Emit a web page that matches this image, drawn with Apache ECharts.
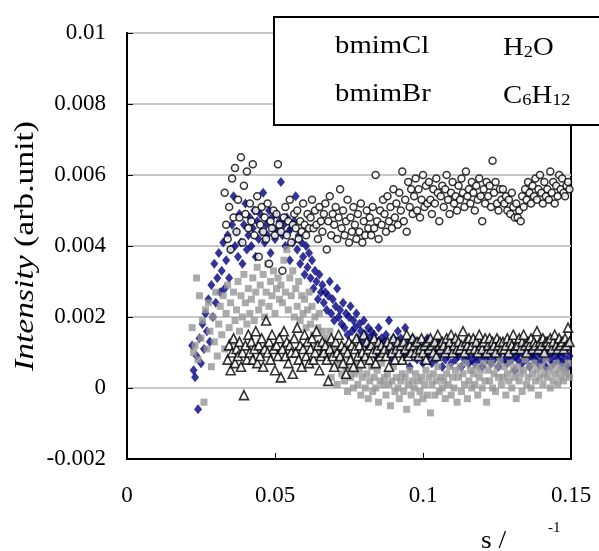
<!DOCTYPE html>
<html>
<head>
<meta charset="utf-8">
<script src="https://cdn.jsdelivr.net/npm/echarts@6/dist/echarts.min.js"></script>
<style>
html,body{margin:0;padding:0;background:#fff;}
#chart{width:599px;height:551px;}
</style>
</head>
<body>
<div id="chart"></div>
<script>
// scattering vector s (common grid)
const sValues = [
0.022,0.0225,0.023,0.0235,0.024,0.0245,0.025,0.0255,0.026,0.0265,
0.027,0.0275,0.028,0.0285,0.029,0.0295,0.030,0.0305,0.031,0.0315,
0.032,0.0325,0.033,0.0335,0.034,0.0345,0.035,0.0355,0.036,0.0365,
0.037,0.0375,0.038,0.0385,0.039,0.0395,0.040,0.0405,0.041,0.0415,
0.042,0.0425,0.043,0.0435,0.044,0.0445,0.045,0.0455,0.046,0.0465,
0.047,0.0475,0.048,0.0485,0.049,0.0495,0.050,0.0505,0.051,0.0515,
0.052,0.0525,0.053,0.0535,0.054,0.0545,0.055,0.0555,0.056,0.0565,
0.057,0.0575,0.058,0.0585,0.059,0.0595,0.060,0.0605,0.061,0.0615,
0.062,0.0625,0.063,0.0635,0.064,0.0645,0.065,0.0655,0.066,0.0665,
0.067,0.0675,0.068,0.0685,0.069,0.0695,0.070,0.0705,0.071,0.0715,
0.072,0.0725,0.073,0.0735,0.074,0.0745,0.075,0.0755,0.076,0.0765,
0.077,0.0775,0.078,0.0785,0.079,0.0795,0.080,0.0805,0.081,0.0815,
0.082,0.0825,0.083,0.0835,0.084,0.0845,0.085,0.0855,0.086,0.0865,
0.087,0.0875,0.088,0.0885,0.089,0.0895,0.090,0.0905,0.091,0.0915,
0.092,0.0925,0.093,0.0935,0.094,0.0945,0.095,0.0955,0.096,0.0965,
0.097,0.0975,0.098,0.0985,0.099,0.0995,0.100,0.1005,0.101,0.1015,
0.102,0.1025,0.103,0.1035,0.104,0.1045,0.105,0.1055,0.106,0.1065,
0.107,0.1075,0.108,0.1085,0.109,0.1095,0.110,0.1105,0.111,0.1115,
0.112,0.1125,0.113,0.1135,0.114,0.1145,0.115,0.1155,0.116,0.1165,
0.117,0.1175,0.118,0.1185,0.119,0.1195,0.120,0.1205,0.121,0.1215,
0.122,0.1225,0.123,0.1235,0.124,0.1245,0.125,0.1255,0.126,0.1265,
0.127,0.1275,0.128,0.1285,0.129,0.1295,0.130,0.1305,0.131,0.1315,
0.132,0.1325,0.133,0.1335,0.134,0.1345,0.135,0.1355,0.136,0.1365,
0.137,0.1375,0.138,0.1385,0.139,0.1395,0.140,0.1405,0.141,0.1415,
0.142,0.1425,0.143,0.1435,0.144,0.1445,0.145,0.1455,0.146,0.1465,
0.147,0.1475,0.148,0.1485,0.149,0.1495
];

// bmimCl (navy diamonds)
const bmimClValues = [
0.0012,0.0005,0.0003,0.0009,-0.0006,0.0014,0.0007,0.0018,0.0011,0.0021,
0.0016,0.0025,0.0013,0.0029,0.0020,0.0035,0.0024,0.0031,0.0038,0.0027,
0.0033,0.0041,0.0028,0.0036,0.0043,0.0031,0.0039,0.0046,0.0054,0.0040,
0.0044,0.0037,0.0049,0.0041,0.0035,0.0046,0.0052,0.0039,0.0043,0.0048,
0.0040,0.0045,0.0050,0.0037,0.0047,0.0042,0.0049,0.0044,0.0055,0.0041,
0.0046,0.0043,0.0050,0.0038,0.0048,0.0045,0.0042,0.0049,0.0044,0.0047,
0.0058,0.0043,0.0046,0.0040,0.0048,0.0044,0.0036,0.0045,0.0041,0.0047,
0.0054,0.0039,0.0043,0.0035,0.0041,0.0037,0.0032,0.0040,0.0034,0.0038,
0.0031,0.0036,0.0028,0.0033,0.0030,0.0025,0.0032,0.0027,0.0029,0.0024,
0.0027,0.0022,0.0026,0.0030,0.0021,0.0025,0.0019,0.0023,0.0028,0.0020,
0.0022,0.0018,0.0024,0.0017,0.0021,0.0015,0.0020,0.0023,0.0016,0.0019,
0.0017,0.0021,0.0014,0.0018,0.0016,0.0013,0.0019,0.0015,0.0012,0.0017,
0.0014,0.0016,0.0011,0.0015,0.0009,0.0013,0.0017,0.0012,0.0014,0.0010,
0.0013,0.0015,0.0011,0.0019,0.0012,0.0008,0.0014,0.0010,0.0013,0.0016,
0.0011,0.0014,0.0009,0.0012,0.0017,0.0010,0.0013,0.0006,0.0011,0.0014,
0.0010,0.0012,0.0008,0.0013,0.0009,0.0011,0.0007,0.0012,0.0010,0.0014,
0.0009,0.0011,0.0007,0.0012,0.0010,0.0008,0.0013,0.0009,0.0011,0.0006,
0.0010,0.0008,0.0012,0.0009,0.0011,0.0007,0.0010,0.0013,0.0008,0.0010,
0.0009,0.0011,0.0006,0.0010,0.0008,0.0012,0.0009,0.0007,0.0011,0.0008,
0.0010,0.0007,0.0009,0.0012,0.0008,0.0010,0.0006,0.0009,0.0011,0.0008,
0.0009,0.0011,0.0007,0.0010,0.0008,0.0012,0.0009,0.0006,0.0010,0.0008,
0.0011,0.0008,0.0010,0.0007,0.0009,0.0012,0.0008,0.0010,0.0005,0.0009,
0.0008,0.0010,0.0012,0.0007,0.0009,0.0011,0.0008,0.0010,0.0006,0.0009,
0.0010,0.0008,0.0011,0.0009,0.0007,0.0010,0.0012,0.0008,0.0009,0.0006,
0.0009,0.0011,0.0008,0.0010,0.0007,0.0009,0.0012,0.0008,0.0010,0.0009,
0.0007,0.0010,0.0008,0.0011,0.0006,0.0009
];

// H2O (grey squares)
const h2oValues = [
0.0017,0.0010,0.0012,0.0031,0.0008,0.0026,0.0014,0.0019,-0.0004,0.0022,
0.0011,0.0024,0.0016,0.0006,0.0020,0.0013,0.0027,0.0009,0.0018,0.0023,
0.0015,0.0026,0.0011,0.0021,0.0029,0.0017,0.0024,0.0013,0.0027,0.0019,
0.0022,0.0030,0.0016,0.0026,0.0020,0.0032,0.0024,0.0018,0.0028,0.0021,
0.0025,0.0031,0.0019,0.0027,0.0034,0.0022,0.0029,0.0024,0.0032,0.0020,
0.0027,0.0035,0.0023,0.0030,0.0026,0.0033,0.0021,0.0028,0.0031,0.0025,
0.0029,0.0024,0.0036,0.0027,0.0039,0.0022,0.0031,0.0026,0.0033,0.0020,
0.0028,0.0023,0.0030,0.0019,0.0026,0.0021,0.0025,0.0017,0.0022,0.0027,
0.0018,0.0023,0.0015,0.0020,0.0012,0.0017,0.0021,0.0011,0.0016,0.0013,
0.0014,0.0009,0.0012,0.0016,0.0003,0.0011,0.0006,0.0010,0.0001,0.0007,
0.0008,0.0004,0.0011,0.0002,0.0006,-0.0001,0.0009,0.0003,0.0005,0.0000,
0.0004,0.0007,0.0001,0.0005,-0.0002,0.0003,0.0008,0.0000,0.0004,-0.0003,
0.0002,0.0006,-0.0001,0.0003,0.0000,0.0005,-0.0004,0.0002,0.0007,0.0001,
0.0003,-0.0002,0.0004,0.0001,-0.0005,0.0002,0.0006,-0.0001,0.0003,0.0000,
-0.0003,0.0002,0.0004,-0.0001,0.0003,-0.0006,0.0001,0.0005,-0.0002,0.0002,
0.0000,0.0004,-0.0004,0.0002,-0.0001,0.0003,-0.0003,0.0001,0.0005,-0.0002,
0.0003,-0.0007,0.0001,0.0004,-0.0002,0.0002,0.0006,-0.0001,0.0003,0.0000,
0.0002,-0.0003,0.0004,0.0001,0.0006,-0.0002,0.0003,0.0000,0.0005,-0.0004,
0.0003,0.0006,-0.0001,0.0004,0.0001,0.0007,-0.0003,0.0002,0.0005,0.0000,
0.0004,0.0001,0.0006,-0.0002,0.0003,0.0005,0.0000,0.0007,0.0002,-0.0004,
0.0005,0.0002,0.0007,0.0000,0.0004,-0.0001,0.0006,0.0003,0.0008,0.0001,
0.0003,0.0006,-0.0002,0.0004,0.0002,0.0007,0.0000,0.0005,0.0003,-0.0003,
0.0006,0.0002,0.0004,-0.0001,0.0005,0.0008,0.0001,0.0003,0.0006,0.0000,
0.0004,0.0007,0.0002,0.0005,-0.0002,0.0003,0.0006,0.0001,0.0004,0.0008,
0.0003,0.0005,0.0000,0.0006,0.0002,0.0004,0.0007,0.0001,0.0005,0.0003,
0.0006,0.0002,0.0005,0.0004,0.0007,0.0003
];

// bmimBr (open triangles)
const bmimBrValues = [
null,null,null,null,null,null,null,null,null,null,
null,null,null,null,null,null,null,null,null,null,
null,null,null,null,0.0008,0.0012,0.0005,0.0010,0.0014,0.0007,
0.0011,0.0009,0.0013,0.0006,0.0010,-0.0002,0.0012,0.0008,0.0015,0.0010,
0.0013,0.0008,0.0011,0.0016,0.0007,0.0012,0.0009,0.0014,0.0006,0.0011,
0.0019,0.0010,0.0013,0.0008,0.0015,0.0011,0.0005,0.0012,0.0009,0.0014,
0.0003,0.0011,0.0016,0.0009,0.0013,0.0007,0.0012,0.0010,0.0004,0.0014,
0.0010,0.0017,0.0008,0.0012,0.0006,0.0011,0.0015,0.0009,0.0013,0.0007,
0.0011,0.0014,0.0008,0.0010,0.0016,0.0012,0.0005,0.0009,0.0013,0.0010,
0.0012,0.0008,0.0002,0.0011,0.0014,0.0009,0.0006,0.0013,0.0010,0.0015,
0.0009,0.0012,0.0007,0.0011,0.0004,0.0010,0.0013,0.0008,0.0012,0.0006,
0.0011,0.0014,0.0009,0.0012,0.0007,0.0010,0.0015,0.0009,0.0013,0.0011,
0.0008,0.0012,0.0010,0.0014,0.0007,0.0011,0.0013,0.0009,0.0012,0.0010,
0.0011,0.0009,0.0013,0.0006,0.0012,0.0010,0.0014,0.0008,0.0011,0.0013,
0.0010,0.0012,0.0008,0.0013,0.0011,0.0015,0.0009,0.0012,0.0010,0.0014,
0.0012,0.0010,0.0013,0.0009,0.0011,0.0014,0.0010,0.0012,0.0008,0.0013,
0.0011,0.0014,0.0012,0.0010,0.0013,0.0009,0.0015,0.0012,0.0011,0.0013,
0.0012,0.0010,0.0014,0.0011,0.0013,0.0015,0.0010,0.0012,0.0014,0.0011,
0.0013,0.0011,0.0012,0.0016,0.0010,0.0013,0.0012,0.0014,0.0011,0.0012,
0.0014,0.0011,0.0013,0.0010,0.0015,0.0012,0.0011,0.0013,0.0014,0.0010,
0.0012,0.0014,0.0011,0.0013,0.0012,0.0010,0.0014,0.0012,0.0013,0.0011,
0.0013,0.0011,0.0012,0.0014,0.0010,0.0013,0.0012,0.0015,0.0011,0.0012,
0.0012,0.0014,0.0011,0.0013,0.0015,0.0012,0.0010,0.0013,0.0012,0.0014,
0.0011,0.0013,0.0012,0.0016,0.0011,0.0013,0.0012,0.0014,0.0010,0.0013,
0.0013,0.0012,0.0014,0.0011,0.0013,0.0015,0.0012,0.0011,0.0014,0.0012,
0.0013,0.0011,0.0014,0.0012,0.0017,0.0013
];

// C6H12 (open circles)
const c6h12Values = [
null,null,null,null,null,null,null,null,null,null,
null,null,null,null,null,null,null,null,null,null,
null,null,0.0055,0.0046,0.0042,0.0051,0.0039,0.0059,0.0048,0.0062,
0.0044,0.0053,0.0048,0.0065,0.0041,0.0057,0.0049,0.0061,0.0045,0.0052,
0.0047,0.0063,0.0043,0.0050,0.0054,0.0037,0.0046,0.0051,0.0044,0.0048,
0.0042,0.0052,0.0035,0.0047,0.0045,0.0050,0.0043,0.0049,0.0063,0.0046,
0.0044,0.0033,0.0048,0.0051,0.0043,0.0047,0.0053,0.0041,0.0046,0.0049,
0.0045,0.0050,0.0042,0.0047,0.0044,0.0052,0.0046,0.0043,0.0049,0.0045,
0.0048,0.0053,0.0045,0.0050,0.0046,0.0042,0.0051,0.0047,0.0044,0.0049,
0.0052,0.0039,0.0047,0.0054,0.0043,0.0049,0.0046,0.0051,0.0042,0.0048,
0.0056,0.0045,0.0050,0.0043,0.0047,0.0053,0.0041,0.0048,0.0044,0.0051,
0.0046,0.0042,0.0049,0.0044,0.0052,0.0041,0.0047,0.0043,0.0050,0.0045,
0.0048,0.0043,0.0051,0.0045,0.0060,0.0047,0.0042,0.0050,0.0046,0.0053,
0.0049,0.0044,0.0054,0.0047,0.0051,0.0045,0.0056,0.0048,0.0052,0.0046,
0.0055,0.0050,0.0061,0.0047,0.0053,0.0044,0.0058,0.0051,0.0056,0.0049,
0.0054,0.0059,0.0050,0.0056,0.0048,0.0053,0.0060,0.0051,0.0057,0.0052,
0.0058,0.0053,0.0049,0.0056,0.0052,0.0059,0.0055,0.0047,0.0054,0.0057,
0.0051,0.0056,0.0060,0.0053,0.0049,0.0055,0.0058,0.0052,0.0054,0.0050,
0.0057,0.0053,0.0059,0.0055,0.0051,0.0061,0.0054,0.0056,0.0052,0.0058,
0.0055,0.0050,0.0057,0.0053,0.0059,0.0054,0.0047,0.0056,0.0052,0.0058,
0.0054,0.0057,0.0051,0.0064,0.0055,0.0058,0.0052,0.0050,0.0056,0.0053,
0.0056,0.0052,0.0054,0.0050,0.0053,0.0049,0.0055,0.0051,0.0048,0.0052,
0.0048,0.0050,0.0047,0.0054,0.0051,0.0056,0.0053,0.0058,0.0055,0.0052,
0.0057,0.0054,0.0059,0.0053,0.0056,0.0060,0.0055,0.0052,0.0058,0.0054,
0.0056,0.0053,0.0061,0.0055,0.0058,0.0052,0.0057,0.0054,0.0060,0.0056,
0.0059,0.0055,0.0054,0.0057,0.0058,0.0056
];

const seriesNames = ['bmimCl', 'H2O', 'bmimBr', 'C6H12'];

function toPairs(ys) {
  const out = [];
  for (let i = 0; i < sValues.length; i++) {
    if (ys[i] !== null && ys[i] !== undefined) out.push([sValues[i], ys[i]]);
  }
  return out;
}

const FONT = '"Liberation Serif", "Times New Roman", serif';

const subRich = {
  a: {fontSize: 25, fontFamily: FONT, fill: '#000', lineHeight: 30, verticalAlign: 'bottom'},
  b: {fontSize: 16, fontFamily: FONT, fill: '#000', lineHeight: 16, verticalAlign: 'bottom'}
};

const chart = echarts.init(document.getElementById('chart'), null, {renderer: 'canvas'});
chart.setOption({
  animation: false,
  backgroundColor: '#ffffff',
  grid: {
    left: 127, right: 28, top: 33, bottom: 92,
    show: true, borderColor: '#000', borderWidth: 2, backgroundColor: 'transparent'
  },
  xAxis: {
    type: 'value', min: 0, max: 0.15, interval: 0.05,
    axisLine: {show: true, onZero: false, lineStyle: {color: '#000', width: 2}},
    axisTick: {show: true, inside: true, length: 6, lineStyle: {color: '#000', width: 1}},
    axisLabel: {color: '#000', fontFamily: FONT, fontSize: 23, margin: 25},
    splitLine: {show: false}
  },
  yAxis: {
    type: 'value', min: -0.002, max: 0.01, interval: 0.002,
    axisLine: {show: true, onZero: false, lineStyle: {color: '#000', width: 2}},
    axisTick: {show: true, inside: true, length: 6, lineStyle: {color: '#000', width: 1}},
    axisLabel: {color: '#000', fontFamily: FONT, fontSize: 23, margin: 21},
    splitLine: {show: true, lineStyle: {color: '#c8c8c8', width: 2}}
  },
  series: [
    {
      name: seriesNames[0], type: 'scatter', data: toPairs(bmimClValues),
      symbol: 'diamond', symbolSize: [8, 10],
      itemStyle: {color: '#000080'}, emphasis: {disabled: true}, z: 2
    },
    {
      name: seriesNames[1], type: 'scatter', data: toPairs(h2oValues),
      symbol: 'rect', symbolSize: 7,
      itemStyle: {color: '#969696'}, emphasis: {disabled: true}, z: 3
    },
    {
      name: seriesNames[2], type: 'scatter', data: toPairs(bmimBrValues),
      symbol: 'triangle', symbolSize: 9,
      itemStyle: {color: '#ffffff', borderColor: '#000', borderWidth: 1.6}, emphasis: {disabled: true}, z: 4
    },
    {
      name: seriesNames[3], type: 'scatter', data: toPairs(c6h12Values),
      symbol: 'circle', symbolSize: 7,
      itemStyle: {color: '#ffffff', borderColor: '#000', borderWidth: 1.5}, emphasis: {disabled: true}, z: 5
    }
  ],
  graphic: [
    {
      type: 'rect', left: 273, top: 16, z: 100,
      shape: {width: 340, height: 108},
      style: {fill: '#fff', stroke: '#000', lineWidth: 2}
    },
    {
      type: 'text', x: 335, y: 46, z: 101, scaleX: 1.15,
      style: {text: 'bmimCl', font: '25px ' + FONT, fill: '#000', verticalAlign: 'middle'}
    },
    {
      type: 'text', x: 503, y: 46, z: 101, scaleX: 1.15,
      style: {text: '{a|H}{b|2}{a|O}', verticalAlign: 'middle', rich: subRich}
    },
    {
      type: 'text', x: 335, y: 94, z: 101, scaleX: 1.15,
      style: {text: 'bmimBr', font: '25px ' + FONT, fill: '#000', verticalAlign: 'middle'}
    },
    {
      type: 'text', x: 503, y: 94, z: 101, scaleX: 1.15,
      style: {text: '{a|C}{b|6}{a|H}{b|12}', verticalAlign: 'middle', rich: subRich}
    },
    {
      type: 'text', x: 26, y: 246, z: 101, rotation: Math.PI / 2, scaleX: 1.2,
      style: {
        text: '{i|Intensity}{n| (arb.unit)}', align: 'center', verticalAlign: 'middle',
        rich: {
          i: {fontStyle: 'italic', fontFamily: FONT, fontSize: 28, fill: '#000'},
          n: {fontFamily: FONT, fontSize: 28, fill: '#000'}
        }
      }
    },
    {
      type: 'text', x: 481, y: 541, z: 101, scaleX: 1.1,
      style: {text: 's /', font: '25px ' + FONT, fill: '#000', verticalAlign: 'middle'}
    },
    {
      type: 'text', x: 548, y: 528, z: 101,
      style: {text: '-1', font: '15px ' + FONT, fill: '#000', verticalAlign: 'middle'}
    }
  ]
});
</script>
</body>
</html>
